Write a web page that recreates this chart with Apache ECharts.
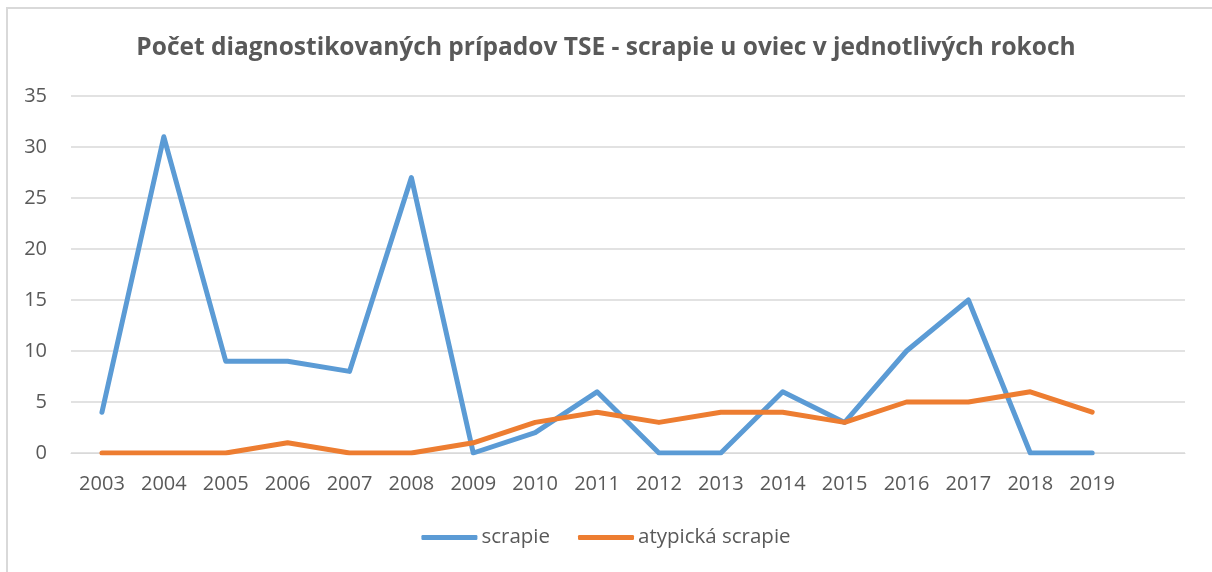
<!DOCTYPE html>
<html>
<head>
<meta charset="utf-8">
<script src="https://cdn.jsdelivr.net/npm/echarts@6/dist/echarts.min.js"></script>
<style>
  html, body { margin: 0; padding: 0; background: #fff; }
  #frame { position: absolute; left: 6px; top: 7px; width: 1220px; height: 580px;
           border-left: 2px solid #d9d9d9; border-top: 2px solid #d9d9d9; }
  #main { position: absolute; left: 0; top: 0; width: 1212px; height: 572px; }
</style>
</head>
<body>
<div id="frame"></div>
<div id="main"></div>
<script>
// roky (posledná kategória je prázdna, ako v Exceli)
var years = ['2003','2004','2005','2006','2007','2008','2009','2010','2011','2012',
             '2013','2014','2015','2016','2017','2018','2019',''];
var scrapie = [4, 31, 9, 9, 8, 27, 0, 2, 6, 0, 0, 6, 3, 10, 15, 0, 0];
var atypicka = [0, 0, 0, 1, 0, 0, 1, 3, 4, 3, 4, 4, 3, 5, 5, 6, 4];
var yTicks = [0, 5, 10, 15, 20, 25, 30, 35];

var chartDom = document.getElementById('main');
var myChart = echarts.init(chartDom);
var option;

var txt = '#595959';
var fnt = '"Open Sans", sans-serif';

option = {
  animation: false,
  title: {
    text: 'Počet diagnostikovaných prípadov TSE - scrapie u oviec v jednotlivých rokoch',
    left: 'center',
    top: 31,
    textStyle: { color: txt, fontSize: 24.5, fontWeight: 'bold', fontFamily: fnt }
  },
  legend: {
    bottom: 19,
    left: 'center',
    itemWidth: 56,
    itemHeight: 5,
    itemGap: 28,
    icon: 'roundRect',
    textStyle: { color: txt, fontSize: 20.5, fontFamily: fnt, padding: [0, 0, 0, -1] },
    data: ['scrapie', 'atypická scrapie']
  },
  grid: { left: 71, right: 27, top: 96, bottom: 119 },
  xAxis: {
    type: 'category',
    data: years,
    boundaryGap: true,
    axisLine: { lineStyle: { color: '#d9d9d9', width: 1 } },
    axisTick: { show: false },
    axisLabel: { color: txt, fontSize: 20, fontFamily: fnt, margin: 21, interval: 0 }
  },
  yAxis: {
    type: 'value',
    min: yTicks[0],
    max: yTicks[yTicks.length - 1],
    interval: 5,
    axisLine: { show: false },
    axisTick: { show: false },
    axisLabel: { color: txt, fontSize: 20, fontFamily: fnt, margin: 24, align: 'right' },
    splitLine: { lineStyle: { color: '#d9d9d9', width: 1.5 } }
  },
  series: [
    {
      name: 'scrapie',
      type: 'line',
      data: scrapie,
      symbol: 'none',
      color: '#5b9bd5',
      lineStyle: { width: 5, cap: 'round', join: 'round' }
    },
    {
      name: 'atypická scrapie',
      type: 'line',
      data: atypicka,
      symbol: 'none',
      color: '#ed7d31',
      lineStyle: { width: 5, cap: 'round', join: 'round' }
    }
  ]
};

option && myChart.setOption(option);
</script>
</body>
</html>
